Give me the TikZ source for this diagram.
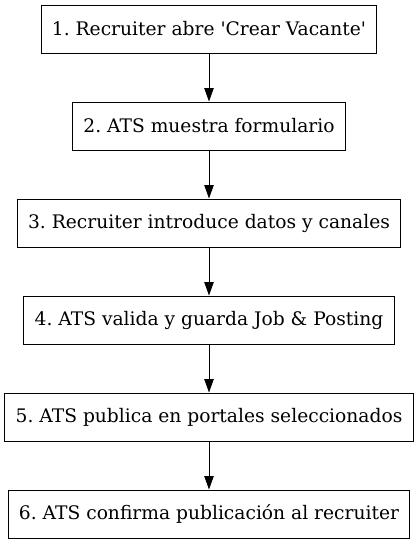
\documentclass[tikz,border=0pt]{standalone}
\usepackage{fontspec}
\setmainfont{DejaVuSerif.ttf}
\usetikzlibrary{positioning,arrows.meta}
\frenchspacing

\begin{document}
\begin{tikzpicture}[
	stepbox/.style={draw,line width=0.75pt,minimum height=36pt,inner xsep=8pt,font=\fontsize{14pt}{16pt}\selectfont},
	flow/.style={-{Triangle[length=10pt,width=7pt]},line width=0.75pt},
	node distance=36pt]
	\useasboundingbox (0,0) rectangle (314.25pt,-404.25pt);
	\node[stepbox] (s1) at (156.75pt,-21.75pt) {1. Recruiter abre \textquotesingle Crear Vacante\textquotesingle};
	\node[stepbox,below=of s1] (s2) {2. ATS muestra formulario};
	\node[stepbox,below=of s2] (s3) {3. Recruiter introduce datos y canales};
	\node[stepbox,below=of s3] (s4) {4. ATS valida y guarda Job \& Posting};
	\node[stepbox,below=of s4] (s5) {5. ATS publica en portales seleccionados};
	\node[stepbox,below=of s5] (s6) {6. ATS confirma publicación al recruiter};
	\draw[flow] (s1) -- (s2);
	\draw[flow] (s2) -- (s3);
	\draw[flow] (s3) -- (s4);
	\draw[flow] (s4) -- (s5);
	\draw[flow] (s5) -- (s6);
\end{tikzpicture}
\end{document}
